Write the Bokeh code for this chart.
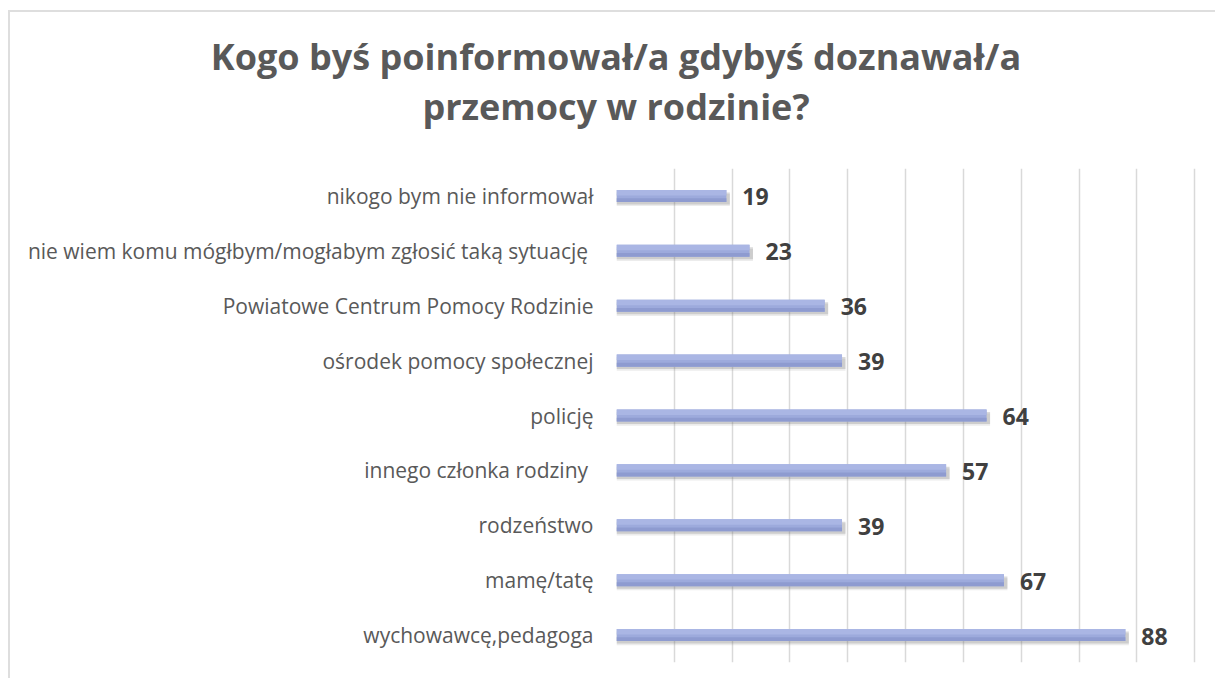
from bokeh.plotting import figure
from bokeh.models import FactorRange, Range1d, FixedTicker, ColumnDataSource, Div
from bokeh.layouts import column
from bokeh.transform import dodge
from bokeh.core.properties import value
from bokeh.embed import file_html
from bokeh.resources import INLINE

categories = [
    "nikogo bym nie informował",
    "nie wiem komu mógłbym/mogłabym zgłosić taką sytuację ",
    "Powiatowe Centrum Pomocy Rodzinie",
    "ośrodek pomocy społecznej",
    "policję",
    "innego członka rodziny ",
    "rodzeństwo",
    "mamę/tatę",
    "wychowawcę,pedagoga",
]
values = [19, 23, 36, 39, 64, 57, 39, 67, 88]
title_lines = ["Kogo byś poinformował/a gdybyś doznawał/a", "przemocy w rodzinie?"]

factors = list(reversed(categories))
src = ColumnDataSource(dict(cat=categories, val=values, lab=[str(v) for v in values],
                            shadow_right=[v + 0.6 for v in values]))

title = Div(
    text=('<div style="width:1200px; margin-left:6px; padding-top:20px; text-align:center; '
          'font-family:\'Open Sans\'; font-weight:bold; font-size:36px; line-height:50px; '
          'color:#595959; white-space:nowrap;">'
          + title_lines[0] + '<br>' + title_lines[1] + '</div>'),
    width=1205, height=146, margin=0)

p = figure(width=1205, height=520, output_backend="svg", toolbar_location=None,
           y_range=FactorRange(factors=factors), x_range=Range1d(0, 100.3),
           min_border_left=606, min_border_right=19, min_border_top=10, min_border_bottom=16,
           margin=0)
p.title = None
p.outline_line_color = None
p.background_fill_color = "white"
p.border_fill_color = "white"

p.xaxis.visible = False
p.xgrid.ticker = FixedTicker(ticks=list(range(0, 101, 10)))
p.xgrid.grid_line_color = "#D9D9D9"
p.xgrid.grid_line_width = 1.5
p.ygrid.grid_line_color = None

p.yaxis.axis_line_color = None
p.yaxis.major_tick_line_color = None
p.yaxis.minor_tick_line_color = None
p.yaxis.major_tick_out = 0
p.yaxis.major_tick_in = 0
p.yaxis.major_label_text_font = "Open Sans"
p.yaxis.major_label_text_font_size = "21px"
p.yaxis.major_label_text_color = "#595959"
p.yaxis.major_label_standoff = 23

# soft shadows below the bars
p.hbar(y=dodge("cat", -0.075, range=p.y_range), left=0, right="shadow_right", height=0.22,
       source=src, fill_color="#808080", fill_alpha=0.15, line_color=None)
p.hbar(y=dodge("cat", -0.045, range=p.y_range), left=0, right="shadow_right", height=0.22,
       source=src, fill_color="#707070", fill_alpha=0.25, line_color=None)
# main bar with a vertical light-to-dark shading
p.hbar(y="cat", right="val", left=0, height=0.22, source=src,
       fill_color="#9DAADC", line_color=None)
p.hbar(y=dodge("cat", 0.06, range=p.y_range), right="val", left=0, height=0.10, source=src,
       fill_color="#AAB6E4", line_color=None)
p.hbar(y=dodge("cat", -0.075, range=p.y_range), right="val", left=0, height=0.07, source=src,
       fill_color="#8E9BD0", line_color=None)

p.text(x="val", y="cat", text="lab", source=src, x_offset=16, y_offset=1,
       text_font=value("Open Sans"), text_font_style="bold", text_font_size="23px",
       text_color="#404040", text_baseline="middle", text_align="left")

layout = column(title, p, spacing=0)
layout.styles = {"border-top": "2px solid #DEDEDE", "border-left": "2px solid #DEDEDE",
                 "margin-left": "8px", "margin-top": "10px"}

open("out.html", "w").write(file_html(layout, INLINE))
